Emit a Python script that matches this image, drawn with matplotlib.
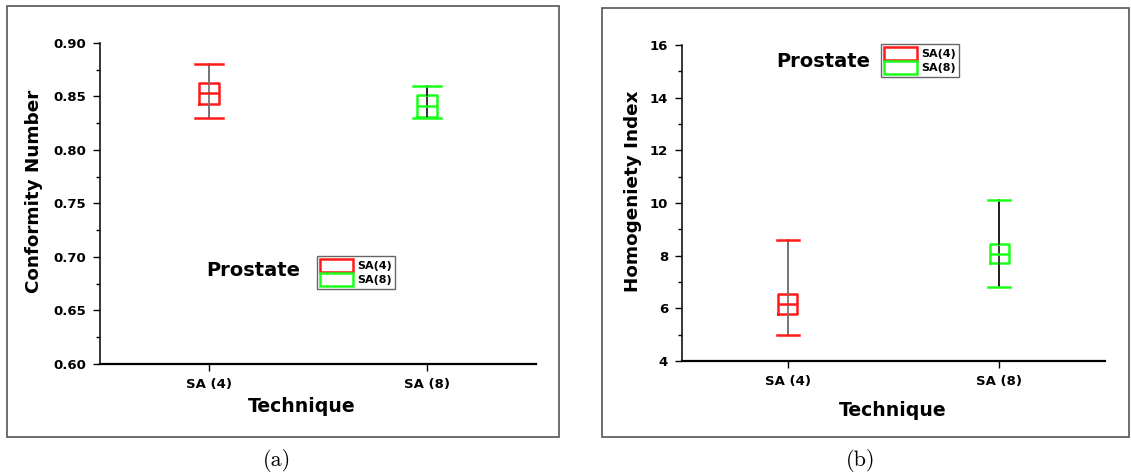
import matplotlib
matplotlib.use('Agg')
import matplotlib.pyplot as plt
from matplotlib.patches import Patch, Rectangle
from matplotlib.ticker import MultipleLocator

# data
techniques = ['SA (4)', 'SA (8)']
legend_labels = ['SA(4)', 'SA(8)']
colors = ['#ff1a1a', '#1aff1a']
whisker_colors = ['#777777', '#222222']

# conformity number: whisker low, q1, median, q3, whisker high
cn_lo = [0.830, 0.830]
cn_q1 = [0.843, 0.8305]
cn_med = [0.853, 0.8415]
cn_q3 = [0.863, 0.851]
cn_hi = [0.880, 0.860]

# homogeneity index
hi_lo = [5.0, 6.8]
hi_q1 = [5.8, 7.72]
hi_med = [6.18, 8.07]
hi_q3 = [6.54, 8.43]
hi_hi = [8.6, 10.1]

W, H = 1131, 476
fig = plt.figure(figsize=(W / 100, H / 100), dpi=100)
fig.patch.set_facecolor('white')

bold = dict(family='DejaVu Sans', weight='bold')


def fx(px):
    return px / W


def fy(px):
    return 1 - px / H


def make_axes(l, r, t, b):
    return fig.add_axes([fx(l), fy(b), fx(r) - fx(l), fy(t) - fy(b)])


def draw_panel(ax, lo, q1, med, q3, hi, box_w, cap_w):
    stats = []
    for i in range(2):
        stats.append(dict(whislo=lo[i], q1=q1[i], med=med[i], q3=q3[i],
                          whishi=hi[i], fliers=[]))
    for i in range(2):
        ax.vlines(i + 1, lo[i], hi[i], color=whisker_colors[i], lw=1.3, zorder=2)
        ax.bxp([stats[i]], positions=[i + 1], widths=box_w, capwidths=cap_w,
               showfliers=False, patch_artist=False,
               boxprops=dict(color=colors[i], lw=1.8),
               medianprops=dict(color=colors[i], lw=1.8),
               whiskerprops=dict(color=whisker_colors[i], lw=1.3),
               capprops=dict(color=colors[i], lw=1.8),
               manage_ticks=False, zorder=3)
    ax.set_xlim(0.5, 2.5)
    ax.set_xticks([1, 2])
    ax.set_xticklabels(techniques, fontsize=9.5, **bold)
    for s in ['top', 'right']:
        ax.spines[s].set_visible(False)
    ax.spines['left'].set_linewidth(1.1)
    ax.spines['bottom'].set_linewidth(1.6)
    ax.tick_params(axis='both', direction='out', length=5, width=1, pad=5)
    ax.tick_params(axis='y', which='minor', direction='out', length=3, width=1)
    for lab in ax.get_yticklabels():
        lab.set_fontsize(9.5)
        lab.set_fontweight('bold')


def add_legend(ax, x, y):
    handles = [Patch(facecolor='none', edgecolor=c, lw=1.8) for c in colors]
    leg = ax.legend(handles, legend_labels, loc='upper left',
                    bbox_to_anchor=(x, y), borderaxespad=0, fancybox=False,
                    edgecolor='#666666', framealpha=1, handlelength=3.0,
                    handleheight=1.4, labelspacing=0.12, handletextpad=0.4,
                    borderpad=0.25, prop=dict(family='DejaVu Sans',
                                              weight='bold', size=8))
    leg.get_frame().set_linewidth(1.0)


# panel frames
fig.patches.append(Rectangle((fx(7), fy(437)), fx(559) - fx(7), fy(6) - fy(437),
                             transform=fig.transFigure, fill=False,
                             edgecolor='#555555', lw=1.2))
fig.patches.append(Rectangle((fx(602), fy(437)), fx(1129) - fx(602), fy(8) - fy(437),
                             transform=fig.transFigure, fill=False,
                             edgecolor='#555555', lw=1.2))

# (a) conformity number
ax1 = make_axes(100, 536, 43, 364)
ax1.set_ylim(0.60, 0.90)
ax1.yaxis.set_major_locator(MultipleLocator(0.05))
ax1.yaxis.set_minor_locator(MultipleLocator(0.025))
ax1.yaxis.set_major_formatter(matplotlib.ticker.FormatStrFormatter('%.2f'))
draw_panel(ax1, cn_lo, cn_q1, cn_med, cn_q3, cn_hi, 0.096, 0.124)
ax1.set_ylabel('Conformity Number', fontsize=13.2, **bold)
ax1.yaxis.set_label_coords(-0.131, 0.537)
ax1.set_xlabel('Technique', fontsize=13.6, **bold)
ax1.xaxis.set_label_coords(0.463, -0.102)
ax1.text(0.351, 0.29, 'Prostate', transform=ax1.transAxes, ha='center',
         va='center', fontsize=14, **bold)
add_legend(ax1, 0.498, 0.336)

# (b) homogeneity index
ax2 = make_axes(682, 1105, 45, 361)
ax2.set_ylim(4, 16)
ax2.yaxis.set_major_locator(MultipleLocator(2))
ax2.yaxis.set_minor_locator(MultipleLocator(1))
draw_panel(ax2, hi_lo, hi_q1, hi_med, hi_q3, hi_hi, 0.09, 0.103)
ax2.set_ylabel('Homogeniety Index', fontsize=13.2, **bold)
ax2.yaxis.set_label_coords(-0.095, 0.536)
ax2.set_xlabel('Technique', fontsize=13.6, **bold)
ax2.xaxis.set_label_coords(0.497, -0.126)
ax2.text(0.333, 0.949, 'Prostate', transform=ax2.transAxes, ha='center',
         va='center', fontsize=14, **bold)
add_legend(ax2, 0.470, 1.003)

# captions
fig.text(fx(277), fy(460), '(a)', family='cmr10', fontsize=16, ha='center', va='center')
fig.text(fx(861), fy(460), '(b)', family='cmr10', fontsize=16, ha='center', va='center')

fig.savefig('out.png', dpi=100)
